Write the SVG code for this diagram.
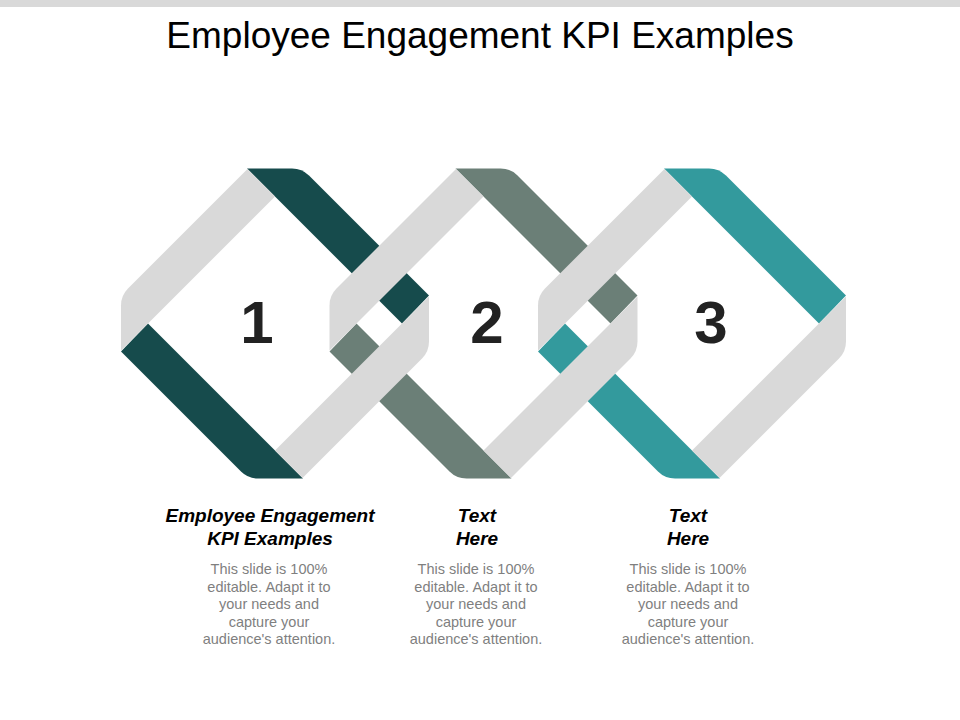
<svg xmlns="http://www.w3.org/2000/svg" xmlns:xlink="http://www.w3.org/1999/xlink" width="960" height="720" viewBox="0 0 960 720">
  <style>
    .title { font-family: "Liberation Sans", Arial, sans-serif; font-size: 37px; fill: #000000; }
    .num { font-family: "Liberation Sans", Arial, sans-serif; font-size: 60px; font-weight: bold; fill: #222222; }
    .label { font-family: "Liberation Sans", Arial, sans-serif; font-size: 19px; font-weight: bold; font-style: italic; fill: #000000; }
    .body { font-family: "Liberation Sans", Arial, sans-serif; font-size: 14.5px; fill: #7f7f7f; }
    .gray { fill: #d9d9d9; }
  </style>
  <defs>
    <path id="stripTR" d="M -28,-155 L 17,-155 Q 27,-155 34,-148 L 154,-28 L 127,0 Z"/>
    <path id="stripBL" d="M 28,155 L -17,155 Q -27,155 -34,148 L -154,28 L -127,0 Z"/>
    <path id="stripTL" d="M -27.5,-154.5 L -147,-35 Q -154,-28 -154,-18 L -154,27 L 0,-127 Z"/>
    <path id="stripBR" d="M 27.5,154.5 L 147,35 Q 154,28 154,18 L 154,-27 L 0,127 Z"/>
  </defs>

  <rect x="0" y="0" width="960" height="7" fill="#d9d9d9"/>
  <text class="title" x="480" y="48" text-anchor="middle">Employee Engagement KPI Examples</text>

  <g id="connectors"></g>

  <!-- colored strips (under) -->
  <g id="ring1-colored" transform="translate(275,323.5)" fill="#164b4c">
    <use xlink:href="#stripTR"/>
    <use xlink:href="#stripBL"/>
  </g>
  <g id="ring2-colored" transform="translate(483.5,323.5)" fill="#6b7f77">
    <use xlink:href="#stripTR"/>
    <use xlink:href="#stripBL"/>
  </g>
  <g id="ring3-colored" transform="translate(692,323.5)" fill="#339a9d">
    <use xlink:href="#stripTR"/>
    <use xlink:href="#stripBL"/>
  </g>

  <!-- gray strips (over) -->
  <g id="ring1-gray" transform="translate(275,323.5)" class="gray">
    <use xlink:href="#stripTL"/>
    <use xlink:href="#stripBR"/>
  </g>
  <g id="ring2-gray" transform="translate(483.5,323.5)" class="gray">
    <use xlink:href="#stripTL"/>
    <use xlink:href="#stripBR"/>
  </g>
  <g id="ring3-gray" transform="translate(692,323.5)" class="gray">
    <use xlink:href="#stripTL"/>
    <use xlink:href="#stripBR"/>
  </g>

  <g id="node1">
    <text class="num" x="257" y="343" text-anchor="middle">1</text>
    <text class="label" x="270" y="522" text-anchor="middle">Employee Engagement</text>
    <text class="label" x="270" y="545" text-anchor="middle">KPI Examples</text>
    <text class="body" x="269" y="574" text-anchor="middle">This slide is 100%</text>
    <text class="body" x="269" y="591.5" text-anchor="middle">editable. Adapt it to</text>
    <text class="body" x="269" y="609" text-anchor="middle">your needs and</text>
    <text class="body" x="269" y="626.5" text-anchor="middle">capture your</text>
    <text class="body" x="269" y="644" text-anchor="middle">audience's attention.</text>
  </g>
  <g id="node2">
    <text class="num" x="487" y="343" text-anchor="middle">2</text>
    <text class="label" x="477" y="522" text-anchor="middle">Text</text>
    <text class="label" x="477" y="545" text-anchor="middle">Here</text>
    <text class="body" x="476" y="574" text-anchor="middle">This slide is 100%</text>
    <text class="body" x="476" y="591.5" text-anchor="middle">editable. Adapt it to</text>
    <text class="body" x="476" y="609" text-anchor="middle">your needs and</text>
    <text class="body" x="476" y="626.5" text-anchor="middle">capture your</text>
    <text class="body" x="476" y="644" text-anchor="middle">audience's attention.</text>
  </g>
  <g id="node3">
    <text class="num" x="711" y="343" text-anchor="middle">3</text>
    <text class="label" x="688" y="522" text-anchor="middle">Text</text>
    <text class="label" x="688" y="545" text-anchor="middle">Here</text>
    <text class="body" x="688" y="574" text-anchor="middle">This slide is 100%</text>
    <text class="body" x="688" y="591.5" text-anchor="middle">editable. Adapt it to</text>
    <text class="body" x="688" y="609" text-anchor="middle">your needs and</text>
    <text class="body" x="688" y="626.5" text-anchor="middle">capture your</text>
    <text class="body" x="688" y="644" text-anchor="middle">audience's attention.</text>
  </g>
</svg>
